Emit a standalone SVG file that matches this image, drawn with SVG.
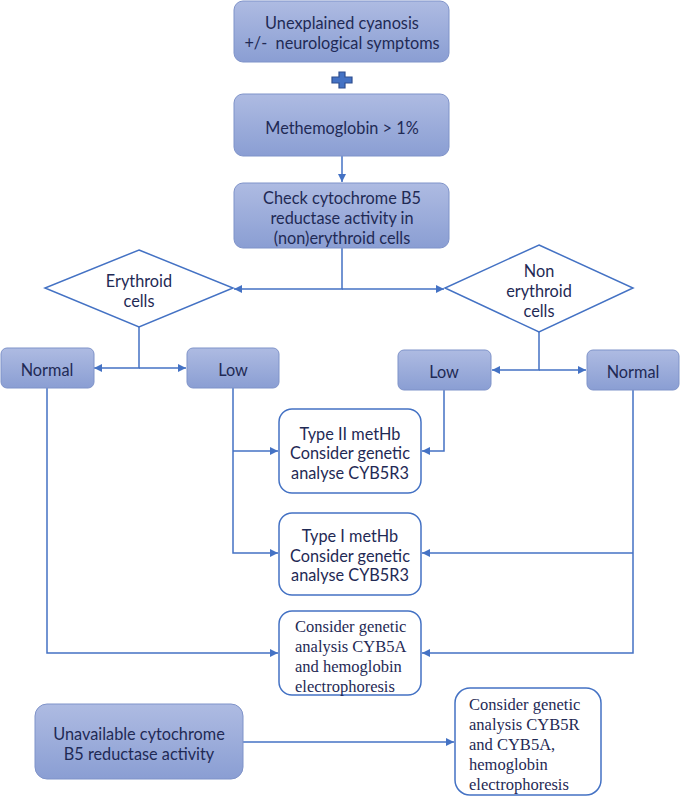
<svg xmlns="http://www.w3.org/2000/svg" width="680" height="796" viewBox="0 0 680 796">
<defs>
<linearGradient id="g" x1="0" y1="0" x2="0" y2="1">
<stop offset="0" stop-color="#aebbe2"/>
<stop offset="1" stop-color="#8a9ed3"/>
</linearGradient>
<marker id="a" viewBox="0 0 10 10" refX="10" refY="5" markerWidth="8" markerHeight="8" markerUnits="userSpaceOnUse" orient="auto">
<path d="M0,0 L10,5 L0,10 z" fill="#4472c4"/>
</marker>
<style>
.f{fill:url(#g);stroke:#7f93c9;stroke-width:1}
.w{fill:#fff;stroke:#4472c4;stroke-width:1.5}
.t{font-family:Lato,"Liberation Sans",sans-serif;font-size:16.3px;fill:#1f2a55;text-anchor:middle;dominant-baseline:central}
.s{font-family:"Liberation Serif","Times New Roman",serif;font-size:16.5px;fill:#1f2a55;dominant-baseline:central}
.c{fill:none;stroke:#4472c4;stroke-width:1.5}
</style>
</defs>
<g id="connectors">
<path class="c" d="M342,156 V182" marker-end="url(#a)"/>
<path class="c" d="M342,248 V289 H234" marker-end="url(#a)"/>
<path class="c" d="M342,289 H444" marker-end="url(#a)"/>
<path class="c" d="M139,327 V368 H94" marker-end="url(#a)"/>
<path class="c" d="M139,368 H186" marker-end="url(#a)"/>
<path class="c" d="M539,332 V370 H492" marker-end="url(#a)"/>
<path class="c" d="M539,370 H586" marker-end="url(#a)"/>
<path class="c" d="M233,388 V553 H278" marker-end="url(#a)"/>
<path class="c" d="M233,451 H278" marker-end="url(#a)"/>
<path class="c" d="M444,390 V451 H422" marker-end="url(#a)"/>
<path class="c" d="M633,390 V653 H422" marker-end="url(#a)"/>
<path class="c" d="M633,553 H422" marker-end="url(#a)"/>
<path class="c" d="M47,388 V653 H278" marker-end="url(#a)"/>
<path class="c" d="M243,742 H454" marker-end="url(#a)"/>
</g>
<g id="n1">
<rect class="f" x="234" y="1" width="215" height="61" rx="9"/>
<text class="t" x="342" y="22">Unexplained cyanosis</text>
<text class="t" x="342" y="42" xml:space="preserve">+/-  neurological symptoms</text>
</g>
<g id="plus">
<path d="M339,72 H345 V77 H352 V83 H345 V88 H339 V83 H332 V77 H339 Z" fill="#4472c4" stroke="#2f4f8f" stroke-width="1.2"/>
</g>
<g id="n2">
<rect class="f" x="234" y="94" width="215" height="62" rx="9"/>
<text class="t" x="342" y="127">Methemoglobin &gt; 1%</text>
</g>
<g id="n3">
<rect class="f" x="234" y="183" width="215" height="65" rx="9"/>
<text class="t" x="342" y="197">Check cytochrome B5</text>
<text class="t" x="342" y="217">reductase activity in</text>
<text class="t" x="342" y="237">(non)erythroid cells</text>
</g>
<g id="d1">
<polygon points="139,250 233,288 139,327 45,288" fill="#fff" stroke="#4472c4" stroke-width="1.5"/>
<text class="t" x="139" y="280">Erythroid</text>
<text class="t" x="139" y="300">cells</text>
</g>
<g id="d2">
<polygon points="539,245 633,288 539,332 445,288" fill="#fff" stroke="#4472c4" stroke-width="1.5"/>
<text class="t" x="539" y="270">Non</text>
<text class="t" x="539" y="290">erythroid</text>
<text class="t" x="539" y="310">cells</text>
</g>
<g id="normal1">
<rect class="f" x="1" y="348" width="93" height="40" rx="6"/>
<text class="t" x="47" y="369">Normal</text>
</g>
<g id="low1">
<rect class="f" x="187" y="348" width="92" height="40" rx="6"/>
<text class="t" x="233" y="369">Low</text>
</g>
<g id="low2">
<rect class="f" x="398" y="350" width="93" height="40" rx="6"/>
<text class="t" x="444" y="371">Low</text>
</g>
<g id="normal2">
<rect class="f" x="587" y="350" width="92" height="40" rx="6"/>
<text class="t" x="633" y="371">Normal</text>
</g>
<g id="type2">
<rect class="w" x="279" y="409" width="142" height="84" rx="13"/>
<text class="t" x="350" y="433">Type II metHb</text>
<text class="t" x="350" y="452">Consider genetic</text>
<text class="t" x="350" y="472">analyse CYB5R3</text>
</g>
<g id="type1">
<rect class="w" x="279" y="513" width="142" height="82" rx="13"/>
<text class="t" x="350" y="535">Type I metHb</text>
<text class="t" x="350" y="555">Consider genetic</text>
<text class="t" x="350" y="574">analyse CYB5R3</text>
</g>
<g id="cyb5a">
<rect class="w" x="279" y="611" width="142" height="84" rx="13"/>
<text class="s" x="295" y="626">Consider genetic</text>
<text class="s" x="295" y="646">analysis CYB5A</text>
<text class="s" x="295" y="666">and hemoglobin</text>
<text class="s" x="295" y="686">electrophoresis</text>
</g>
<g id="unavail">
<rect class="f" x="35" y="704" width="208" height="75" rx="12"/>
<text class="t" x="139" y="733">Unavailable cytochrome</text>
<text class="t" x="139" y="753">B5 reductase activity</text>
</g>
<g id="cyb5r">
<rect class="w" x="455" y="688" width="146" height="107" rx="15"/>
<text class="s" x="469" y="704">Consider genetic</text>
<text class="s" x="469" y="724">analysis CYB5R</text>
<text class="s" x="469" y="744">and CYB5A,</text>
<text class="s" x="469" y="764">hemoglobin</text>
<text class="s" x="469" y="784">electrophoresis</text>
</g>
</svg>
